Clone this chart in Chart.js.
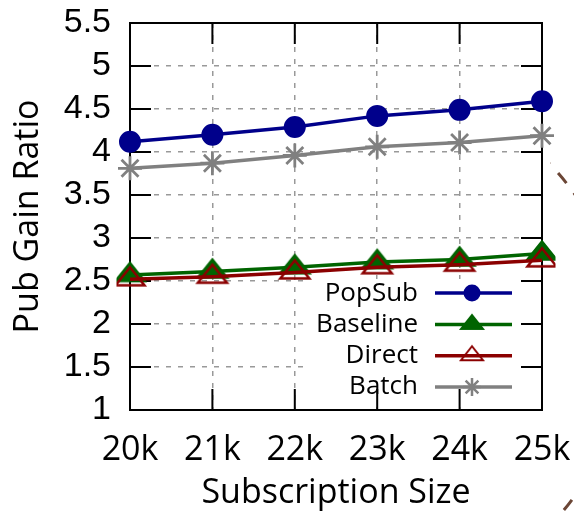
<!DOCTYPE html>
<html>
<head>
<meta charset="utf-8">
<script src="https://cdn.jsdelivr.net/npm/chart.js@4/dist/chart.umd.min.js"></script>
<style>
  html, body { margin: 0; padding: 0; background: #fff; }
  #wrap { width: 574px; height: 517px; }
</style>
</head>
<body>
<div id="wrap"><canvas id="c" width="574" height="517"></canvas></div>
<script>
// Subscription sizes and pub gain ratio per method
const categories = ['20k', '21k', '22k', '23k', '24k', '25k'];
const popSub   = [4.12, 4.20, 4.29, 4.42, 4.49, 4.59];
const baseline = [2.57, 2.61, 2.66, 2.72, 2.75, 2.82];
const direct   = [2.52, 2.55, 2.60, 2.66, 2.69, 2.74];
const batch    = [3.81, 3.87, 3.96, 4.06, 4.11, 4.19];
const yTicks   = [1, 1.5, 2, 2.5, 3, 3.5, 4, 4.5, 5, 5.5];

const BLUE = '#00008b', GREEN = '#006400', RED = '#8b0000', GRAY = '#808080';

// Plot box edges in canvas pixels
const BOX = { left: 130, top: 23, right: 542, bottom: 410 };

// Flat gnuplot-style triangle drawn into a small canvas, centroid at its centre
function triangleMarker(w, h, fill, stroke, lw) {
  const pad = lw + 1;
  const apexY = pad, baseY = pad + h;
  const cy = apexY + 2 * h / 3;
  const W = Math.ceil(w + 2 * pad), H = Math.ceil(2 * cy);
  const cv = document.createElement('canvas');
  cv.width = W; cv.height = H;
  const g = cv.getContext('2d');
  g.beginPath();
  g.moveTo(W / 2, apexY);
  g.lineTo(W / 2 + w / 2, baseY);
  g.lineTo(W / 2 - w / 2, baseY);
  g.closePath();
  if (fill) { g.fillStyle = fill; g.fill(); }
  g.lineWidth = lw; g.strokeStyle = stroke; g.lineJoin = 'miter';
  g.stroke();
  return cv;
}

const triFilled = triangleMarker(29, 18, GREEN, GREEN, 2.5);
const triOpen   = triangleMarker(29, 18, null, RED, 2.5);
const triFilledKey = triangleMarker(22, 14, GREEN, GREEN, 2);
const triOpenKey   = triangleMarker(22, 14, null, RED, 2);

// Key box, frame and inward tick marks on all four sides
const framePlugin = {
  id: 'frame',
  beforeDatasetsDraw(chart) {
    const { ctx, chartArea: a, scales } = chart;
    ctx.save();
    ctx.fillStyle = '#fff';
    ctx.fillRect(a.right - 237, a.bottom - 131, 230, 124);
    ctx.strokeStyle = '#000';
    ctx.lineWidth = 2;
    ctx.strokeRect(a.left, a.top, a.right - a.left, a.bottom - a.top);
    const L = 21;
    ctx.beginPath();
    scales.y.ticks.forEach((t, i) => {
      const y = scales.y.getPixelForTick(i);
      ctx.moveTo(a.left, y); ctx.lineTo(a.left + L, y);
      ctx.moveTo(a.right - L, y); ctx.lineTo(a.right, y);
    });
    scales.x.ticks.forEach((t, i) => {
      const x = scales.x.getPixelForTick(i);
      ctx.moveTo(x, a.top); ctx.lineTo(x, a.top + L);
      ctx.moveTo(x, a.bottom - L); ctx.lineTo(x, a.bottom);
    });
    ctx.stroke();
    ctx.restore();
  }
};

// Key drawn inside the plot, bottom right
const keyPlugin = {
  id: 'key',
  afterDatasetsDraw(chart) {
    const { ctx, chartArea: a } = chart;
    const sets = chart.data.datasets;
    const n = sets.length;
    ctx.save();
    ctx.font = '26px "Open Sans"';
    ctx.textAlign = 'right';
    ctx.textBaseline = 'middle';
    sets.forEach((ds, i) => {
      const y = a.bottom - 23 - (n - 1 - i) * 31.3;
      ctx.fillStyle = '#000';
      ctx.fillText(ds.label, a.right - 124, y);
      ctx.strokeStyle = ds.borderColor;
      ctx.lineWidth = 3.5;
      ctx.beginPath();
      ctx.moveTo(a.right - 107, y); ctx.lineTo(a.right - 30, y);
      ctx.stroke();
      const mx = a.right - 70;
      const key = ds.keyMarker;
      if (key === 'circle') {
        ctx.fillStyle = ds.borderColor;
        ctx.beginPath(); ctx.arc(mx, y, 8.5, 0, Math.PI * 2); ctx.fill();
      } else if (key === 'star') {
        const r = 9;
        ctx.lineWidth = 2.5;
        ctx.beginPath();
        for (let k = 0; k < 4; k++) {
          const ang = k * Math.PI / 4;
          ctx.moveTo(mx - r * Math.cos(ang), y - r * Math.sin(ang));
          ctx.lineTo(mx + r * Math.cos(ang), y + r * Math.sin(ang));
        }
        ctx.stroke();
      } else if (key) {
        ctx.drawImage(key, mx - key.width / 2, y - key.height / 2);
      }
    });
    ctx.restore();
  }
};

// Dashed arc running past the right edge, only its outer part shows
const arcPlugin = {
  id: 'edgeArc',
  afterDraw(chart) {
    const ctx = chart.ctx;
    ctx.save();
    ctx.beginPath();
    ctx.rect(550, 0, 30, 517);
    ctx.clip();
    ctx.strokeStyle = '#6b4636';
    ctx.lineWidth = 3;
    ctx.setLineDash([13, 12.25]);
    ctx.lineDashOffset = 6.75;
    ctx.beginPath();
    ctx.arc(363, 345, 260, -Math.PI / 2, Math.PI / 2);
    ctx.stroke();
    ctx.restore();
  }
};

new Chart(document.getElementById('c'), {
  type: 'line',
  data: {
    labels: categories,
    datasets: [
      { label: 'PopSub', data: popSub, borderColor: BLUE, backgroundColor: BLUE,
        borderWidth: 3.5, pointStyle: 'circle', pointRadius: 10, pointBorderWidth: 2,
        keyMarker: 'circle', order: 3 },
      { label: 'Baseline', data: baseline, borderColor: GREEN, backgroundColor: GREEN,
        borderWidth: 3.5, pointStyle: triFilled, pointRadius: 10,
        keyMarker: triFilledKey, order: 2 },
      { label: 'Direct', data: direct, borderColor: RED, backgroundColor: 'rgba(0,0,0,0)',
        borderWidth: 3.5, pointStyle: triOpen, pointRadius: 10,
        keyMarker: triOpenKey, order: 1 },
      { label: 'Batch', data: batch, borderColor: GRAY, backgroundColor: GRAY,
        borderWidth: 3.5, pointStyle: 'star', pointRadius: 12, pointBorderWidth: 2.8,
        keyMarker: 'star', order: 0 }
    ]
  },
  options: {
    responsive: false,
    animation: false,
    events: [],
    layout: { padding: { top: BOX.top, right: 574 - BOX.right, left: 0, bottom: 0 } },
    plugins: { legend: { display: false }, tooltip: { enabled: false } },
    elements: { line: { tension: 0 } },
    scales: {
      x: {
        type: 'category',
        offset: false,
        grid: { offset: false, color: '#999', lineWidth: 1.5, drawTicks: false },
        border: { display: false, dash: [5, 7] },
        ticks: { color: '#000', font: { family: '"Open Sans"', size: 34 }, padding: 20,
                 maxRotation: 0, autoSkip: false },
        title: { display: true, text: 'Subscription Size', color: '#000',
                 font: { family: '"Open Sans"', size: 34 }, padding: { top: 0, bottom: 3 } },
        afterFit(scale) {
          scale.height = 517 - BOX.bottom;
          scale.paddingLeft = 0; scale.paddingRight = 0;
        }
      },
      y: {
        min: yTicks[0],
        max: yTicks[yTicks.length - 1],
        afterBuildTicks(scale) { scale.ticks = yTicks.map(v => ({ value: v })); },
        grid: { color: '#999', lineWidth: 1.5, drawTicks: false },
        border: { display: false, dash: [5, 7] },
        ticks: { color: '#000', font: { family: '"Liberation Sans"', size: 34 }, padding: 19,
                 autoSkip: false, callback: v => String(v) },
        title: { display: true, text: 'Pub Gain Ratio', color: '#000',
                 font: { family: '"Open Sans"', size: 34 }, padding: { top: 8, bottom: 0 } },
        afterFit(scale) {
          scale.width = BOX.left;
          scale.paddingTop = 0; scale.paddingBottom = 0;
        }
      }
    }
  },
  plugins: [framePlugin, keyPlugin, arcPlugin]
});
</script>
</body>
</html>
